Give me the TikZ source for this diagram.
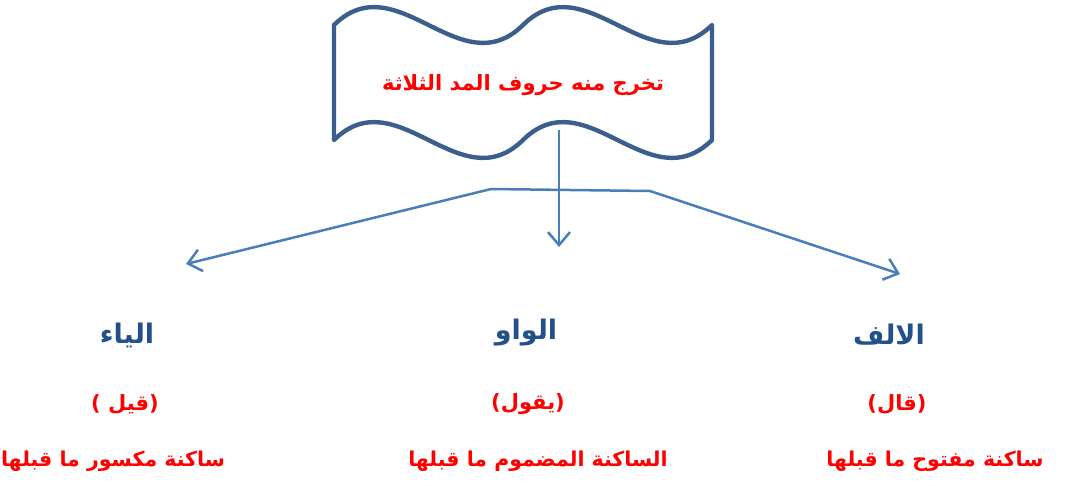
\documentclass[tikz,border=0pt]{standalone}
\usepackage{fontspec}
\usetikzlibrary{arrows.meta}
\TeXXeTstate=1
\newfontfamily\arabicfont[Script=Arabic]{DejaVu Sans}
\definecolor{boxblue}{HTML}{3B5E8C}
\definecolor{arrblue}{HTML}{4A7EBB}
\definecolor{headblue}{HTML}{24508A}
\definecolor{txtred}{HTML}{FF0000}
\begin{document}
\begin{tikzpicture}[x=1pt,y=-1pt,
  wavebox/.style={draw=boxblue,line width=4.4pt,line join=round},
  conn/.style={draw=arrblue,line width=2.5pt,line join=round},
  arr/.style={conn,-{Straight Barb[length=13pt,width=22pt,line width=2.5pt]}},
  head/.style={text=headblue,font=\arabicfont\bfseries\fontsize{27}{30}\selectfont,inner sep=0pt},
  ex/.style={text=txtred,font=\arabicfont\bfseries\fontsize{21}{24}\selectfont,inner sep=0pt},
  desc/.style={text=txtred,font=\arabicfont\bfseries\fontsize{20.5}{24}\selectfont,inner sep=0pt},
  ttl/.style={text=txtred,font=\arabicfont\bfseries\fontsize{21}{24}\selectfont,inner sep=0pt}]
\useasboundingbox (0,0) rectangle (1066,485);
% wave box
\draw[wavebox] (334,25) .. controls (397,-37) and (460,87) .. (523,25)
  .. controls (586,-37) and (649,87) .. (712,25) -- (712,140)
  .. controls (649,202) and (586,78) .. (523,140)
  .. controls (460,202) and (397,78) .. (334,140) -- cycle;
\node[ttl] (title) at (523,85) {\beginR تخرج منه حروف المد الثلاثة\endR};
% connector points
\coordinate (boxbot) at (559,130);
\coordinate (vtip) at (559,247);
\coordinate (hl) at (491,189);
\coordinate (hr) at (650,191);
\coordinate (ltip) at (186,264);
\coordinate (rtip) at (900,274);
\draw[arr] (boxbot) -- (vtip);
\draw[conn] (hl) -- (hr);
\draw[arr] (hl) -- (ltip);
\draw[arr] (hr) -- (rtip);
% left column
\node[head] (ya) at (127,335) {\beginR الياء\endR};
\node[ex] (qil) at (125,404) {\beginR(قيل )\endR};
\node[desc] (yad) at (113,461) {\beginR ساكنة مكسور ما قبلها\endR};
% middle column
\node[head] (waw) at (526,333) {\beginR الواو\endR};
\node[ex] (yaqul) at (528,404) {\beginR(يقول)\endR};
\node[desc] (wawd) at (538,461) {\beginR الساكنة المضموم ما قبلها\endR};
% right column
\node[head] (alif) at (889,335) {\beginR الالف\endR};
\node[ex] (qal) at (897,404) {\beginR(قال)\endR};
\node[desc] (alifd) at (935,461) {\beginR ساكنة مفتوح ما قبلها\endR};
\end{tikzpicture}
\end{document}
